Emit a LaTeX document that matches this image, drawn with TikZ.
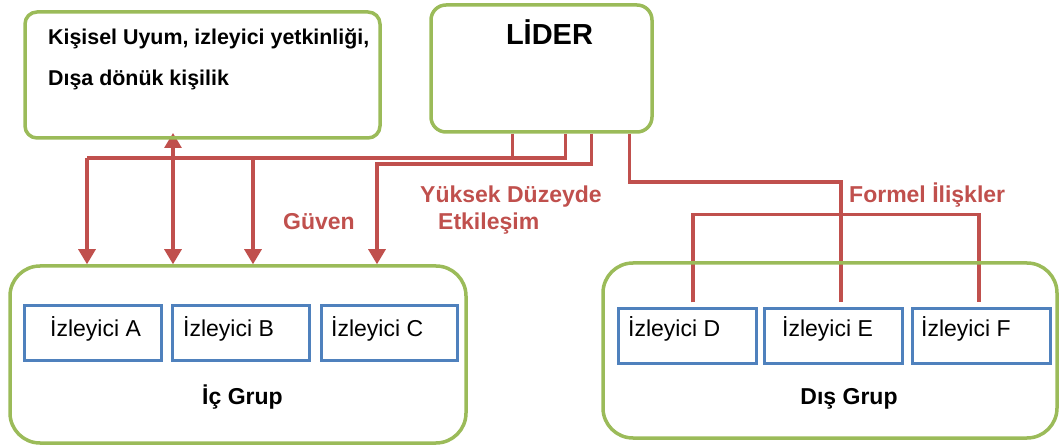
\documentclass[tikz,border=0pt]{standalone}
\usepackage{fontspec}
\setmainfont{Liberation Sans}
\usetikzlibrary{arrows.meta,calc,backgrounds}
\definecolor{grn}{HTML}{9BBB59}
\definecolor{blu}{HTML}{4F81BD}
\definecolor{rd}{HTML}{C0504D}
\tikzset{
  gbox/.style={draw=grn, line width=3.5pt, inner sep=0pt},
  fbox/.style={draw=blu, line width=3pt, inner sep=0pt, minimum height=54pt},
  txt/.style={inner sep=0pt, font=\fontsize{23}{27}\selectfont},
  btxt/.style={inner sep=0pt, font=\fontsize{23}{27}\selectfont\bfseries},
  rtxt/.style={inner sep=0pt, text=rd, font=\fontsize{23}{27}\selectfont\bfseries},
  rl/.style={draw=rd, line width=3.1pt},
  tip/.style={-{Triangle[width=17pt,length=15pt]}},
  dtip/.style={{Triangle[width=17pt,length=15pt]}-{Triangle[width=17pt,length=15pt]}}
}
\begin{document}
\begin{tikzpicture}[x=1pt,y=-1pt]
\useasboundingbox (0,0) rectangle (1063,446);

% main boxes
\node[gbox, rounded corners=12pt, minimum width=355pt, minimum height=126pt] (note) at (202.5,75) {};
\node[gbox, rounded corners=15pt, minimum width=221pt, minimum height=127pt] (lider) at (541.5,68.5) {};
\node[gbox, rounded corners=30pt, minimum width=456pt, minimum height=177pt] (ic) at (238,354.5) {};
\node[gbox, rounded corners=30pt, minimum width=454pt, minimum height=175pt] (dis) at (830,350.5) {};

% follower boxes
\node[fbox, minimum width=137pt] (A) at (92.5,333) {};
\node[fbox, minimum width=137pt] (B) at (240.5,333) {};
\node[fbox, minimum width=136pt] (C) at (389,333) {};
\node[fbox, minimum width=138pt] (D) at (687,336) {};
\node[fbox, minimum width=138pt] (E) at (833,336) {};
\node[fbox, minimum width=138pt] (F) at (981,336) {};

% texts
\node[anchor=base west, inner sep=0pt, font=\fontsize{21.4}{25}\selectfont\bfseries] (notea) at (48,45) {Kişisel Uyum, izleyici yetkinliği,};
\node[anchor=base west, inner sep=0pt, font=\fontsize{21.4}{25}\selectfont\bfseries] (noteb) at (48,86) {Dışa dönük kişilik};
\node[anchor=base, inner sep=0pt, font=\fontsize{29}{33}\selectfont\bfseries] (lidert) at (549.5,45) {LİDER};

\node[txt, anchor=base] (At) at (95.5,337) {İzleyici A};
\node[txt, anchor=base west] (Bt) at (183,337) {İzleyici B};
\node[txt, anchor=base west] (Ct) at (331,337) {İzleyici C};
\node[txt, anchor=base west] (Dt) at (628,337) {İzleyici D};
\node[txt, anchor=base west] (Et) at (782,337) {İzleyici E};
\node[txt, anchor=base west] (Ft) at (921,337) {İzleyici F};

\node[btxt, anchor=base] (ict) at (242.5,404) {İç Grup};
\node[btxt, anchor=base] (dist) at (849,404) {Dış Grup};

\node[rtxt, anchor=base west] (guven) at (283,230) {Güven};
\node[rtxt, anchor=base west] (yuksek) at (420,203) {Yüksek Düzeyde};
\node[rtxt, anchor=base west] (etk) at (438,230) {Etkileşim};
\node[rtxt, anchor=base west] (formel) at (849,203) {Formel İlişkler};

% connector points on the leader's lower edge
\coordinate (l1) at ($(lider.south west)+(83,0)$);
\coordinate (l2) at ($(lider.south west)+(136,0)$);
\coordinate (l3) at ($(lider.south west)+(162,0)$);
\coordinate (l4) at ($(lider.south west)+(200,0)$);
% junctions
\coordinate (h1) at (87,158);
\coordinate (h2) at (253,158);
\coordinate (h3) at (377,164);
\coordinate (h4) at (841,182);
\coordinate (up) at (173,133);
\coordinate (dd) at ($(D.north)+(6,-5)$);
\coordinate (ff) at ($(F.north)+(-2,-5)$);

\begin{pgfonlayer}{background}
  \draw[rl] (l1) -- (l1 |- h1);
  \draw[rl] (l2) |- (h1);
  \draw[rl, tip] (h1) -- (h1 |- ic.north);
  \draw[rl, tip] (h2) -- (h2 |- ic.north);
  \draw[rl, dtip] (up) -- (up |- ic.north);
  \draw[rl, tip] (l3) |- (h3) -- (h3 |- ic.north);
  \draw[rl] (l4) |- (h4) -- ($(E.north)+(8,-5)$);
  \draw[rl] (dd) |- ($(ff)+(0,-88)$) -- (ff);
\end{pgfonlayer}
\end{tikzpicture}
\end{document}
